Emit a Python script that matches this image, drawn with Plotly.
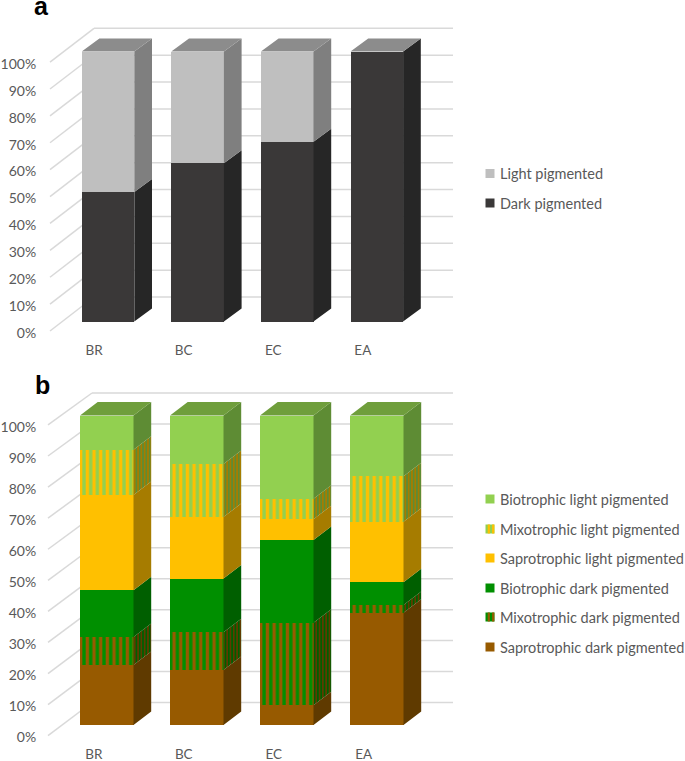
import plotly.graph_objects as go

W, H = 685, 761
categories = ["BR", "BC", "EC", "EA"]
pct_ticks = [0, 10, 20, 30, 40, 50, 60, 70, 80, 90, 100]

# panel a (% of total)
dark_pigmented = [48.0, 58.6, 66.6, 100.0]
light_pigmented = [52.0, 41.4, 33.4, 0.0]

# panel b (% of total)
sapro_dark = [19.4, 17.8, 6.4, 36.3]
mixo_dark = [9.0, 12.2, 26.6, 2.5]
bio_dark = [15.1, 17.3, 26.8, 7.3]
sapro_light = [30.8, 19.9, 6.7, 19.6]
mixo_light = [14.6, 17.1, 6.6, 14.7]
bio_light = [11.1, 15.7, 26.9, 19.6]

FONT = "Lato"
TXT = "#595959"
GRID = "#D9D9D9"
BROWN, BROWN_S = "#975A00", "#5F3A00"
GREEN, GREEN_S = "#008F00", "#005F00"
YEL, YEL_S = "#FFC000", "#A67C00"
LG, LG_S, LG_T = "#92D050", "#5E8C34", "#6F9E3C"

# series: name, values, face colour, side colour, stripe colours (face fg, side fg) or None
series_a = [
    ("Dark pigmented", dark_pigmented, "#3A3838", "#262626", None),
    ("Light pigmented", light_pigmented, "#BFBFBF", "#7F7F7F", None),
]
series_b = [
    ("Saprotrophic dark pigmented", sapro_dark, BROWN, BROWN_S, None),
    ("Mixotrophic dark pigmented", mixo_dark, GREEN, GREEN_S, (BROWN, BROWN_S)),
    ("Biotrophic dark pigmented", bio_dark, GREEN, GREEN_S, None),
    ("Saprotrophic light pigmented", sapro_light, YEL, YEL_S, None),
    ("Mixotrophic light pigmented", mixo_light, LG, LG_S, (YEL, YEL_S)),
    ("Biotrophic light pigmented", bio_light, LG, LG_S, None),
]

# panel geometry, in pixels of the page
panels = [
    dict(xa="x", ya="y", series=series_a, top_col="#8C8C8C", x0=108.0, step=89.6, bw=52.6,
         y0=321.5, k=2.70, dxp=17.7, dyp=13.0, tick_drop=-3.52, tick_k=0.996, wall_up=9.07, wall_k=0.995,
         left=50, back=94, lab_shift=-14, pt=20, pb=335, nudge=0.7),
    dict(xa="x2", ya="y2", series=series_b, top_col=LG_T, x0=106.75, step=90.0, bw=53.5,
         y0=725.0, k=3.095, dxp=17.7, dyp=13.5, tick_drop=-3.45, tick_k=1.004, wall_up=7.27, wall_k=1.0,
         left=48, back=92, lab_shift=-13, pt=385, pb=739, nudge=0.55),
]
PL, PR = 44, 460

fig = go.Figure()
shapes, annotations = [], []
layout_axes = {}

for n, p in enumerate(panels):
    idx = list(range(len(categories)))
    w = p["bw"] / p["step"]
    dx = p["dxp"] / p["step"]
    dy = p["dyp"] / p["k"]
    u = lambda px, p=p: (px - p["x0"]) / p["step"]

    # wall and side grid lines, under the bars
    for v in pct_ticks:
        yw = v * p["wall_k"] + p["wall_up"]
        yf = v * p["tick_k"] + p["tick_drop"]
        for x_0, y_0, x_1, y_1 in [(u(p["back"]), yw, u(453), yw), (u(p["left"]), yf, u(p["back"]), yw)]:
            if y_0 < (p["y0"] - p["pb"]) / p["k"]:
                pass
            shapes.append(dict(type="line", xref=p["xa"], yref=p["ya"], x0=x_0, y0=y_0, x1=x_1, y1=y_1,
                               layer="below", line=dict(color=GRID, width=1.5)))

    cum = [0.0] * len(categories)
    for name, vals, col, side, stripe in p["series"]:
        m = dict(color=col, line=dict(width=0))
        if stripe:
            m["pattern"] = dict(shape="|", bgcolor=col, fgcolor=stripe[0], fgopacity=1, size=6.67, solidity=0.5)
        fig.add_trace(go.Bar(x=idx, y=vals, width=w, marker=m, name=name, showlegend=False,
                             xaxis=p["xa"], yaxis=p["ya"]))
        xs, ys = [], []
        for i in idx:
            a, b = cum[i], cum[i] + vals[i]
            cum[i] = b
            if vals[i] <= 0:
                continue
            r = i + w / 2
            xs += [r, r + dx, r + dx, r, r, None]
            ys += [a, a + dy, b + dy, b, a, None]
        sc = dict(x=xs, y=ys, mode="lines", fill="toself", fillcolor=side, line=dict(width=0),
                  showlegend=False, hoverinfo="skip", xaxis=p["xa"], yaxis=p["ya"])
        if stripe:
            sc["fillpattern"] = dict(shape="|", bgcolor=side, fgcolor=stripe[1], fgopacity=1, size=3.3, solidity=0.5)
        fig.add_trace(go.Scatter(**sc))
    # top faces
    xs, ys = [], []
    for i in idx:
        l, r, t = i - w / 2, i + w / 2, cum[i]
        xs += [l, l + dx, r + dx, r, l, None]
        ys += [t, t + dy, t + dy, t, t, None]
    fig.add_trace(go.Scatter(x=xs, y=ys, mode="lines", fill="toself", fillcolor=p["top_col"], line=dict(width=0),
                             showlegend=False, hoverinfo="skip", xaxis=p["xa"], yaxis=p["ya"]))

    s = "" if n == 0 else "2"
    layout_axes["xaxis" + s] = dict(
        domain=[PL / W, PR / W], range=[u(PL), u(PR)], tickmode="array", automargin=False,
        tickvals=[i + p["lab_shift"] / p["step"] for i in idx], ticktext=categories,
        showgrid=False, zeroline=False, showline=False, ticks="outside", ticklen=3, tickcolor="rgba(0,0,0,0)",
        tickfont=dict(family=FONT, size=13.5, color=TXT), anchor="y" + s)
    layout_axes["yaxis" + s] = dict(
        domain=[1 - p["pb"] / H, 1 - p["pt"] / H], automargin=False,
        range=[(p["y0"] - p["pb"]) / p["k"], (p["y0"] - p["pt"]) / p["k"]],
        tickmode="array", tickvals=[v * p["tick_k"] + p["tick_drop"] - p["nudge"] for v in pct_ticks],
        ticktext=[f"{v}%" for v in pct_ticks],
        showgrid=False, zeroline=False, showline=False, ticks="outside", ticklen=4, tickcolor="rgba(0,0,0,0)",
        tickfont=dict(family=FONT, size=14, color=TXT), anchor="x" + s)


def legend_item(cy, name, col, stripe=None):
    sx, sz = 485.5, 9
    def rect(x0, x1, c):
        shapes.append(dict(type="rect", xref="paper", yref="paper", x0=x0 / W, x1=x1 / W,
                           y0=1 - (cy + sz / 2) / H, y1=1 - (cy - sz / 2) / H,
                           fillcolor=c, line=dict(width=0), layer="above"))
    rect(sx, sx + sz, col)
    if stripe:
        rect(sx + 2.2, sx + 4.4, stripe)
        rect(sx + 6.6, sx + 8.8, stripe)
    annotations.append(dict(text=name, xref="paper", yref="paper", x=498 / W, y=1 - cy / H, xanchor="left",
                            yanchor="middle", showarrow=False, font=dict(family=FONT, size=14.5, color=TXT)))


legend_a_y = [173.5, 203]
for cy, (name, vals, col, side, st) in zip(legend_a_y, reversed(series_a)):
    legend_item(cy, name, col)
legend_b_y = [499, 529, 558, 588, 617, 647]
for cy, (name, vals, col, side, st) in zip(legend_b_y, reversed(series_b)):
    legend_item(cy, name, col, st[0] if st else None)

for txt, x, y in [("a", 41, 6), ("b", 42.5, 385)]:
    annotations.append(dict(text=f"<b>{txt}</b>", xref="paper", yref="paper", x=x / W, y=1 - y / H,
                            xanchor="center", yanchor="middle", showarrow=False,
                            font=dict(family="Liberation Sans", size=25, color="#000000")))

fig.update_layout(width=W, height=H, margin=dict(l=0, r=0, t=0, b=0, autoexpand=False),
                  paper_bgcolor="white", plot_bgcolor="white",
                  barmode="stack", bargap=0, showlegend=False, shapes=shapes, annotations=annotations, **layout_axes)
fig.write_html("out.html", post_script="document.body.style.margin='0';", config=dict(displayModeBar=False))
